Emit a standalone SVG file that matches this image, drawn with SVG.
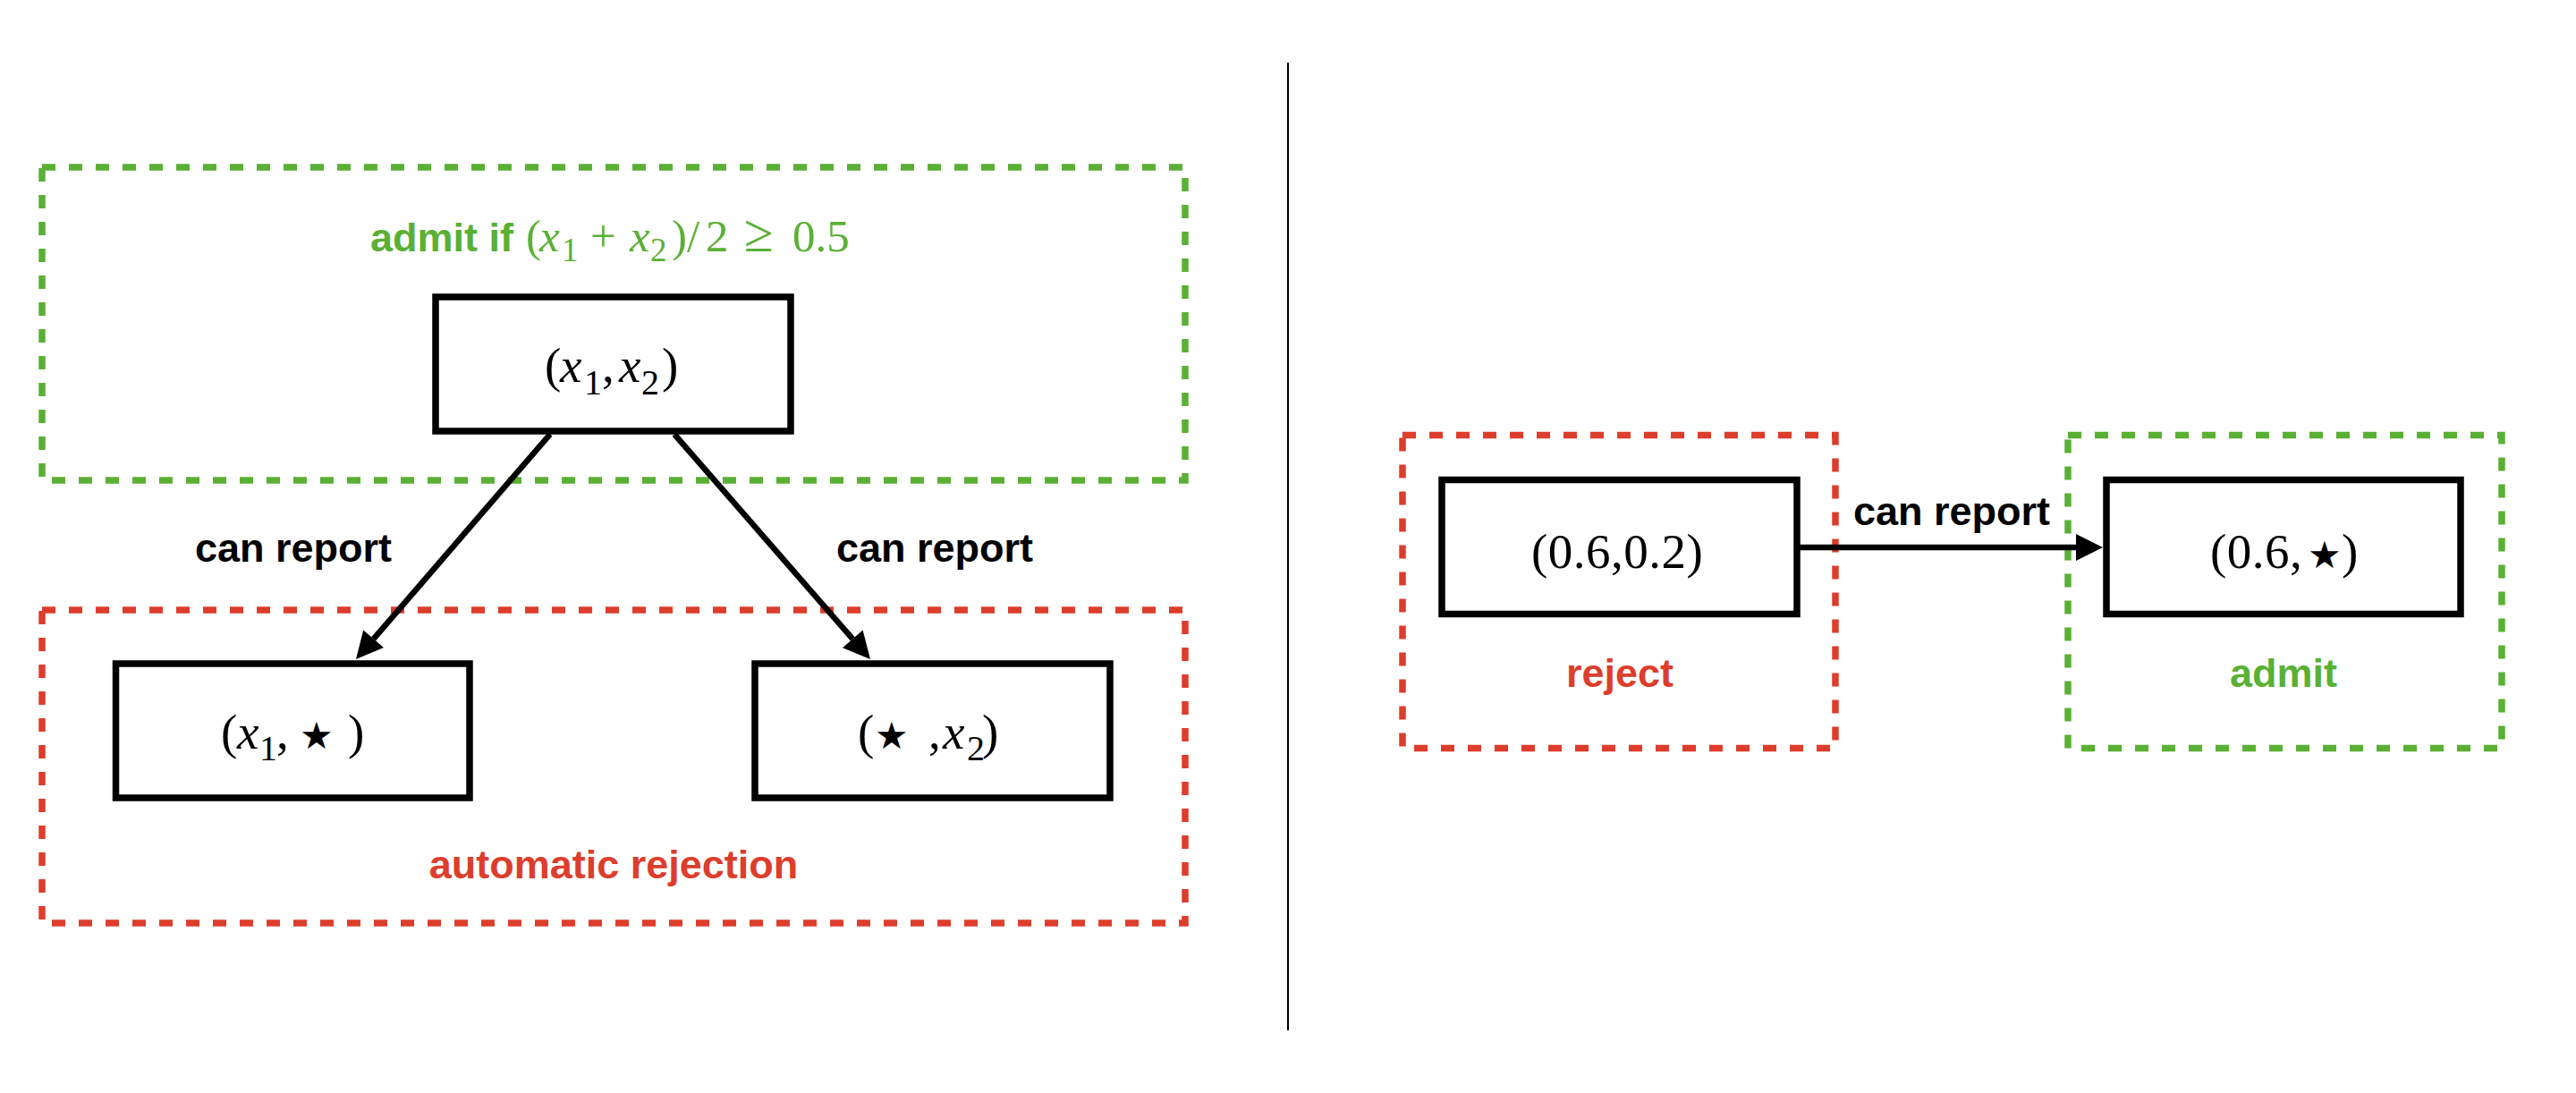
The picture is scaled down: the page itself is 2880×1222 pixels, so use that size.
<svg xmlns="http://www.w3.org/2000/svg" width="2880" height="1222" viewBox="0 0 2880 1222">
  <defs>
    <style>
      .zone { fill: none; stroke-width: 7.5; stroke-dasharray: 15 15; }
      .zg { stroke: #5AB034; }
      .zr { stroke: #DD3D2C; }
      .node { fill: #ffffff; stroke: #000000; stroke-width: 7.5; }
      .lbl { font-family: "Liberation Sans", Arial, sans-serif; font-weight: bold; font-size: 45px; text-anchor: middle; }
      .math { font-family: "Liberation Serif", "Times New Roman", serif; font-size: 55px; fill: #000; }
      .it { font-style: italic; }
      .sub { font-size: 40px; }
      .star { font-family: "DejaVu Sans", sans-serif; font-size: 42px; }
      .edge { fill: none; stroke: #000; stroke-width: 6.5; }
    </style>
    <marker id="ah" markerUnits="userSpaceOnUse" markerWidth="30" markerHeight="30" refX="0" refY="15" orient="auto" overflow="visible">
      <path d="M0,0 L30,15 L0,30 z" fill="#000"/>
    </marker>
  </defs>
  <rect width="2880" height="1222" fill="#ffffff"/>

  <!-- left: zones -->
  <g id="zone-admit">
    <rect class="zone zg" x="47" y="187" width="1278" height="350"/>
    <text x="414" y="281" fill="#5AB034"><tspan font-family="Liberation Sans, Arial, sans-serif" font-weight="bold" font-size="45">admit if</tspan><tspan font-family="Liberation Serif, Times New Roman, serif" font-size="51"><tspan x="588">(</tspan><tspan x="603" font-style="italic">x</tspan><tspan x="628" y="292" font-size="37">1</tspan><tspan x="660" y="281">+</tspan><tspan x="704" font-style="italic">x</tspan><tspan x="727" y="292" font-size="37">2</tspan><tspan x="751" y="281">)</tspan><tspan x="768">/</tspan><tspan x="789">2</tspan><tspan x="832" font-size="60">≥</tspan><tspan x="886">0.5</tspan></tspan></text>
  </g>
  <g id="zone-reject-auto">
    <rect class="zone zr" x="47" y="682" width="1278" height="350"/>
    <text class="lbl" x="686" y="982" fill="#DD3D2C">automatic rejection</text>
  </g>

  <!-- left: nodes -->
  <g id="node-x1x2">
    <rect class="node" x="487" y="332" width="397" height="150"/>
    <text class="math" y="427"><tspan x="609">(</tspan><tspan x="626" class="it">x</tspan><tspan x="653" y="441" class="sub">1</tspan><tspan x="673" y="427">,</tspan><tspan x="692" class="it">x</tspan><tspan x="717" y="441" class="sub">2</tspan><tspan x="740" y="427">)</tspan></text>
  </g>
  <g id="node-x1star">
    <rect class="node" x="129.5" y="742" width="395.5" height="150"/>
    <text class="math" y="837"><tspan x="247">(</tspan><tspan x="265" class="it">x</tspan><tspan x="290" y="850" class="sub">1</tspan><tspan x="309" y="837">,</tspan><tspan x="335" class="star">★</tspan><tspan x="389">)</tspan></text>
  </g>
  <g id="node-starx2">
    <rect class="node" x="844" y="742" width="397" height="150"/>
    <text class="math" y="837"><tspan x="959">(</tspan><tspan x="978" class="star">★</tspan><tspan x="1038">,</tspan><tspan x="1054" class="it">x</tspan><tspan x="1081" y="850" class="sub">2</tspan><tspan x="1098" y="837">)</tspan></text>
  </g>

  <!-- divider -->
  <line id="divider" x1="1440" y1="70" x2="1440" y2="1152" stroke="#000" stroke-width="2"/>

  <!-- right: zones -->
  <g id="zone-reject">
    <rect class="zone zr" x="1568" y="486.5" width="484" height="350"/>
    <text class="lbl" x="1811" y="768" fill="#DD3D2C">reject</text>
  </g>
  <g id="zone-admit-right">
    <rect class="zone zg" x="2312" y="486.5" width="485" height="350"/>
    <text class="lbl" x="2553" y="768" fill="#5AB034">admit</text>
  </g>

  <!-- right: nodes -->
  <g id="node-06-02">
    <rect class="node" x="1612" y="536.5" width="397" height="150"/>
    <text class="math" x="1712" y="635" letter-spacing="0.5">(0.6,0.2)</text>
  </g>
  <g id="node-06-star">
    <rect class="node" x="2355" y="536.5" width="396" height="150"/>
    <text class="math" y="635"><tspan x="2471" letter-spacing="0.5">(0.6,</tspan><tspan x="2580" class="star">★</tspan><tspan x="2618">)</tspan></text>
  </g>

  <!-- connectors -->
  <g id="connectors">
    <line class="edge" x1="615" y1="485.5" x2="417.6" y2="714.3" marker-end="url(#ah)"/>
    <line class="edge" x1="754" y1="485.5" x2="953.3" y2="714.4" marker-end="url(#ah)"/>
    <line class="edge" x1="2009" y1="612" x2="2321" y2="612" stroke-width="7.5" marker-end="url(#ah)"/>
    <text class="lbl" x="328" y="628" fill="#000">can report</text>
    <text class="lbl" x="1045" y="628" fill="#000">can report</text>
    <text class="lbl" x="2182" y="587" fill="#000">can report</text>
  </g>
</svg>
